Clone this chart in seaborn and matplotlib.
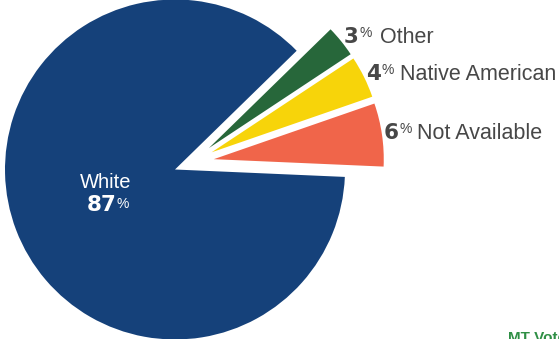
import matplotlib
matplotlib.use("Agg")
import matplotlib.pyplot as plt
import seaborn as sns

sns.set_theme(style="white")
plt.rcParams['font.family'] = ['Liberation Sans', 'DejaVu Sans']

# ---- data ----
categories = ["Not Available", "Native American", "Other", "White"]
shares = [6, 4, 3, 87]
slice_colors = ["#f0654a", "#f7d40a", "#27673a", "#15417a"]
highlight = "White"

# ---- layout ----
W, H = 559, 339
R = 170.0            # pie radius in pixels
cx, cy = 175.0, 169.5  # main pie centre (pixels from top-left)
group_shift = (16.0 / R, 7.0 / R)
explode_amt = 23.0 / R
start = -2.5

fig = plt.figure(figsize=(W / 100, H / 100), dpi=100)
ax = fig.add_axes([0, 0, 1, 1])
none = (0, 0, 0, 0)

# main (White) slice
main_cols = [c if cat == highlight else none for cat, c in zip(categories, slice_colors)]
ax.pie(shares, colors=main_cols, startangle=start, counterclock=True,
       radius=1, center=(0, 0), wedgeprops=dict(linewidth=0))

# exploded minor slices
minor_cols = [none if cat == highlight else c for cat, c in zip(categories, slice_colors)]
explode = [0 if cat == highlight else explode_amt for cat in categories]
ax.pie(shares, colors=minor_cols, startangle=start, counterclock=True,
       radius=1, center=group_shift, explode=explode, wedgeprops=dict(linewidth=0))

ax.set_xlim(-cx / R, (W - cx) / R)
ax.set_ylim(-(H - cy) / R, cy / R)
ax.set_aspect('auto')
ax.axis('off')


def px(x, y):
    return x / W, 1 - y / H


gray = "#474747"
num_font = dict(family='DejaVu Sans', fontweight='bold', fontsize=15.5)
pct_font = dict(family='Liberation Sans', fontsize=10)
lab_font = dict(family='Liberation Sans', fontsize=15.5)
in_font = dict(family='Liberation Sans', fontsize=14.5)

# label placement (pixels): number x, percent x, name x, baseline
label_pos = {
    "Other": (344, 359, 379.7, 43.3),
    "Native American": (365.7, 381.5, 400, 80),
    "Not Available": (383.3, 399, 416.7, 139),
}
for cat, val in zip(categories, shares):
    if cat == highlight:
        continue
    xn, xp, xl, yb = label_pos[cat]
    fig.text(*px(xn, yb), f"{val}", color=gray, ha='left', va='baseline', **num_font)
    fig.text(*px(xp, yb - 6), "%", color=gray, ha='left', va='baseline', **pct_font)
    fig.text(*px(xl, yb), cat, color=gray, ha='left', va='baseline', **lab_font)

# White label inside pie
wval = shares[categories.index(highlight)]
fig.text(*px(105.5, 188.3), highlight, color='white', ha='center', va='baseline', **in_font)
fig.text(*px(86.3, 211), f"{wval}", color='white', ha='left', va='baseline', **num_font)
fig.text(*px(116.3, 208), "%", color='white', ha='left', va='baseline', **pct_font)

# cropped logo text at bottom-right
fig.text(*px(508, 330.5), "MT Votes", color="#2f8f45", ha='left', va='top',
         family='Liberation Sans', fontweight='bold', fontsize=11)

fig.savefig("out.png", dpi=100)
